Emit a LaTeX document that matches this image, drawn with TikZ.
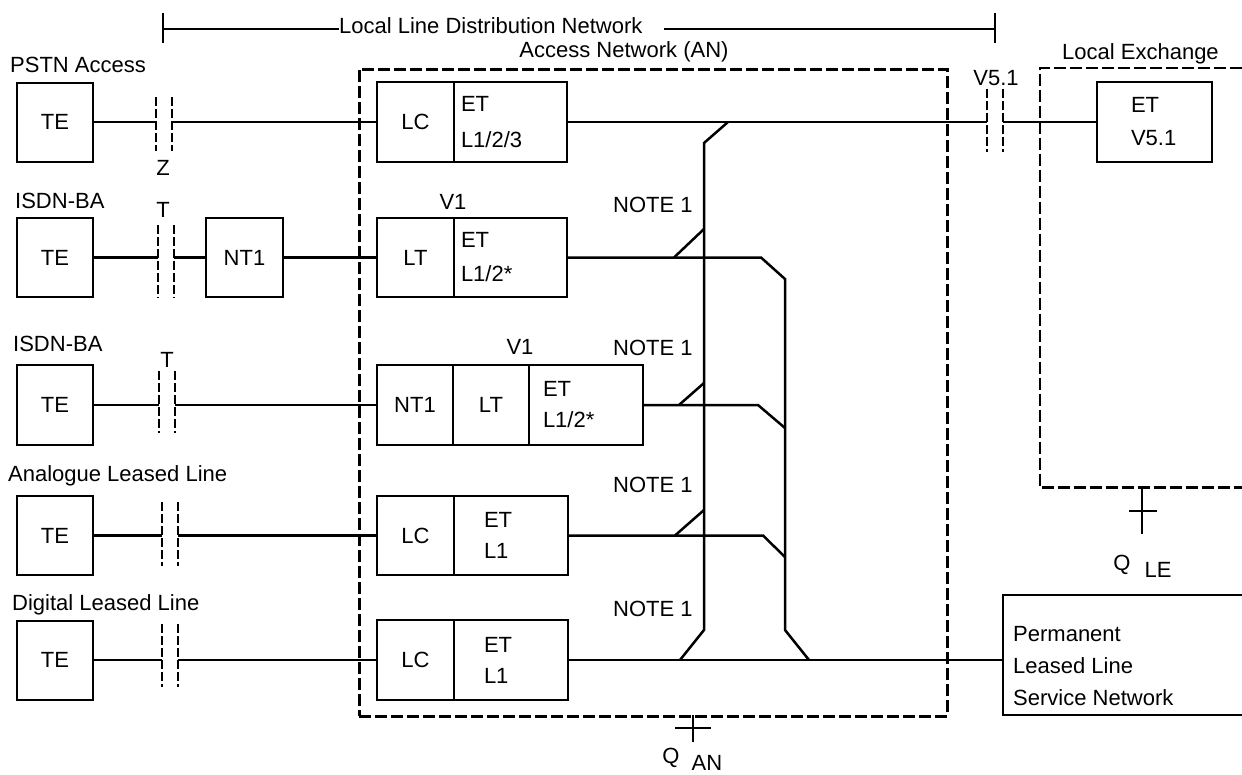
\documentclass[tikz,border=0pt]{standalone}
\usepackage{fontspec}
\setmainfont{Liberation Sans}
\begin{document}
\begin{tikzpicture}[x=1pt,y=-1pt,
  every node/.style={font=\fontsize{22}{26}\selectfont, inner sep=0pt},
  box/.style={draw, line width=2pt, inner sep=0pt},
  etbox/.style={box, align=left, minimum height=80pt},
  ln/.style={line width=2.5pt},
  ifc/.style={line width=2.5pt, dash pattern=on 9pt off 3pt},
  grp/.style={line width=2.5pt, dash pattern=on 12pt off 4pt},
  lbl/.style={anchor=base west},
  clbl/.style={anchor=base}]
\useasboundingbox (0,0) rectangle (1242,774);

% ---- group outlines
\node[draw, grp, minimum width=588pt, minimum height=647pt, anchor=north west] (AN) at (358,68) {};
\node[minimum width=202pt, minimum height=419pt, anchor=north west] (LE) at (1040,68) {};
\draw[grp] (LE.north east) -- (LE.north west) -- (LE.south west) -- (LE.south east);

% ---- top bracket
\node[lbl] (LLDN) at (339,33) {Local Line Distribution Network};
\coordinate (brL) at (163,29);
\coordinate (brR) at (995,29);
\draw[ln] (163,13) -- (163,43);
\draw[ln] (995,13) -- (995,43);
\draw[ln] (brL) -- (LLDN.west |- brL);
\draw[ln] ([xshift=21pt]LLDN.east |- brR) -- (brR);
\node[clbl] (ANlbl) at (624,57) {Access Network (AN)};
\node[lbl] (LElbl) at (1062,59) {Local Exchange};

% ---- row labels
\node[lbl] (r1lbl) at (10,72) {PSTN Access};
\node[lbl] (r2lbl) at (15,208) {ISDN-BA};
\node[lbl] (r3lbl) at (13,351) {ISDN-BA};
\node[lbl] (r4lbl) at (8,481) {Analogue Leased Line};
\node[lbl] (r5lbl) at (12,610) {Digital Leased Line};
\node[clbl] (zlbl) at (163,175) {Z};
\node[clbl] (t2lbl) at (163,217) {T};
\node[clbl] (t3lbl) at (167,367) {T};
\node[clbl] (v1a) at (453,209) {V1};
\node[clbl] (v1b) at (520,354) {V1};
\node[clbl] (v51lbl) at (996,85) {V5.1};
\node[lbl] (n2) at (613,212) {NOTE 1};
\node[lbl] (n3) at (613,355) {NOTE 1};
\node[lbl] (n4) at (613,492) {NOTE 1};
\node[lbl] (n5) at (613,616) {NOTE 1};

% ---- terminal equipment
\node[box, minimum width=76pt, minimum height=79pt] (TE1) at (55,122) {TE};
\node[box, minimum width=76pt, minimum height=79pt] (TE2) at (55,257.5) {TE};
\node[box, minimum width=76pt, minimum height=80pt] (TE3) at (55,405) {TE};
\node[box, minimum width=76pt, minimum height=79pt] (TE4) at (55,535.5) {TE};
\node[box, minimum width=76pt, minimum height=79pt] (TE5) at (55,660) {TE};
\node[box, minimum width=77pt, minimum height=79pt] (NT1a) at (244.5,257.5) {NT1};

% ---- access network cells
\node[box, minimum width=77pt, minimum height=80pt] (LC1) at (415.5,122) {LC};
\node[etbox, font=\fontsize{22}{36}\selectfont, text width=99pt, inner xsep=7pt] (ET1) at (510.5,122) {ET\\L1/2/3};
\node[box, minimum width=77pt, minimum height=79pt] (LT2) at (415.5,257.5) {LT};
\node[etbox, minimum height=79pt, font=\fontsize{22}{34}\selectfont, text width=99pt, inner xsep=7pt] (ET2) at (510.5,257.5) {ET\\L1/2*};
\node[box, minimum width=76pt, minimum height=80pt] (NT1b) at (415,405) {NT1};
\node[box, minimum width=76pt, minimum height=80pt] (LT3) at (491,405) {LT};
\node[etbox, font=\fontsize{22}{31}\selectfont, text width=86pt, inner xsep=14pt] (ET3) at (586,405) {ET\\L1/2*};
\node[box, minimum width=77pt, minimum height=79pt] (LC4) at (415.5,535.5) {LC};
\node[etbox, minimum height=79pt, font=\fontsize{22}{31}\selectfont, text width=54pt, inner xsep=30pt] (ET4) at (511,535.5) {ET\\L1};
\node[box, minimum width=77pt, minimum height=80pt] (LC5) at (415.5,660) {LC};
\node[etbox, font=\fontsize{22}{31}\selectfont, text width=54pt, inner xsep=30pt] (ET5) at (511,660) {ET\\L1};

% ---- local exchange and leased line network
\node[etbox, font=\fontsize{22}{33}\selectfont, text width=47pt, inner xsep=34pt] (ETLE) at (1154.5,122) {ET\\V5.1};
\node[minimum width=239pt, minimum height=120pt, anchor=north west] (PLL) at (1003,595) {};
\draw[line width=2pt] (PLL.north east) -- (PLL.north west) -- (PLL.south west) -- (PLL.south east);
\node[anchor=west, align=left, font=\fontsize{22}{32}\selectfont] (PLLt) at (1013,666) {Permanent\\Leased Line\\Service Network};

% ---- interface marks
\draw[ifc] (156,97) -- (156,151);  \draw[ifc] (172,97) -- (172,151);
\draw[ifc] (158,225) -- (158,298); \draw[ifc] (174,225) -- (174,298);
\draw[ifc] (159,371) -- (159,433); \draw[ifc] (175,371) -- (175,433);
\draw[ifc] (162,502) -- (162,566); \draw[ifc] (178,502) -- (178,566);
\draw[ifc] (162,624) -- (162,687); \draw[ifc] (178,624) -- (178,687);
\draw[ifc] (987,89) -- (987,152);  \draw[ifc] (1003,89) -- (1003,152);

\coordinate (Z1a) at (156,122);   \coordinate (Z1b) at (172,122);
\coordinate (T2a) at (158,257.5); \coordinate (T2b) at (174,257.5);
\coordinate (T3a) at (159,405);   \coordinate (T3b) at (175,405);
\coordinate (A4a) at (162,535.5); \coordinate (A4b) at (178,535.5);
\coordinate (D5a) at (162,660);   \coordinate (D5b) at (178,660);
\coordinate (V5a) at (987,122);   \coordinate (V5b) at (1003,122);

% ---- connections
\draw[ln] (TE1.east) -- (Z1a);  \draw[ln] (Z1b) -- (LC1.west);
\draw[ln] (TE2.east) -- (T2a);  \draw[ln] (T2b) -- (NT1a.west);
\draw[ln] (NT1a.east) -- (LT2.west);
\draw[ln] (TE3.east) -- (T3a);  \draw[ln] (T3b) -- (NT1b.west);
\draw[ln] (TE4.east) -- (A4a);  \draw[ln] (A4b) -- (LC4.west);
\draw[ln] (TE5.east) -- (D5a);  \draw[ln] (D5b) -- (LC5.west);
\draw[ln] (ET1.east) -- (V5a);  \draw[ln] (V5b) -- (ETLE.west);

% ---- bus A (from V5.1 line)
\coordinate (j1) at (728,122);
\draw[ln] (j1) -- (704,143) -- (704,630) -- (680,660);
\draw[ln] (674,257.5) -- (704,229);
\draw[ln] (679,405) -- (704,383);
\draw[ln] (675,535.5) -- (704,510);
% ---- bus B (to leased line network)
\draw[ln] (ET2.east) -- (761,257.5) -- (785,279) -- (785,630) -- (809,660);
\draw[ln] (ET3.east) -- (758,405) -- (785,428);
\draw[ln] (ET4.east) -- (763,535.5) -- (785,557);
\draw[ln] (ET5.east) -- (ET5.east -| PLL.west);

% ---- Q interfaces
\draw[ln] (693,715) -- (693,742);  \draw[ln] (675,728) -- (711,728);
\node[clbl] (qan) at (671,763) {Q};
\node[clbl] (qansub) at (707,770) {AN};
\draw[ln] (1142,487) -- (1142,534); \draw[ln] (1129,511) -- (1157,511);
\node[clbl] (qle) at (1122,570) {Q};
\node[clbl] (qlesub) at (1158,577) {LE};
\end{tikzpicture}
\end{document}
